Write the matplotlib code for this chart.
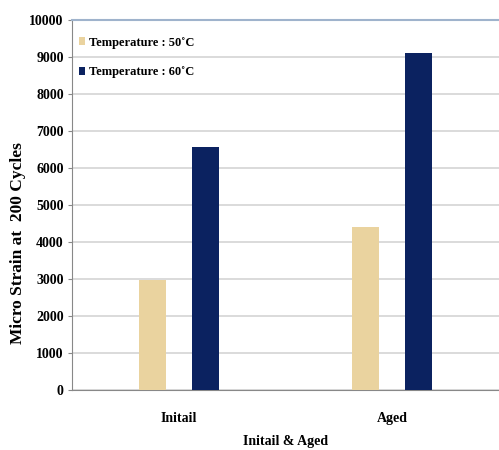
import numpy as np
from matplotlib import pyplot as plt

# 조건별 미세 변형률 (200 사이클)
groups = ['Initail', 'Aged']
strain_50c = [2970, 4400]
strain_60c = [6570, 9100]
yticks = [0, 1000, 2000, 3000, 4000, 5000, 6000, 7000, 8000, 9000, 10000]

plt.rcParams['font.family'] = ['Liberation Serif', 'DejaVu Serif']

fig = plt.figure(figsize=(4.99, 4.5), dpi=100)
ax = fig.add_axes([0.1443, 0.1333, 0.8557, 0.8223])

x = np.arange(len(groups))
w = 0.127
ax.bar(x - 0.125, strain_50c, w, color='#ead39f', label='Temperature : 50˚C', zorder=3)
ax.bar(x + 0.125, strain_60c, w, color='#0b2260', label='Temperature : 60˚C', zorder=3)

ax.set_xlim(-0.5, 1.5)
ax.set_ylim(0, 10000)
ax.set_yticks(yticks)
ax.set_yticklabels([str(v) for v in yticks], fontweight='bold', fontsize=10)
ax.set_xticks(x)
ax.set_xticklabels(groups, fontweight='bold', fontsize=10)
ax.tick_params(axis='x', length=0, pad=16)
ax.tick_params(axis='y', length=3, color='#888888', pad=3)

ax.grid(axis='y', color='#d4d4d4', linewidth=1.2, zorder=0)
ax.spines['right'].set_visible(False)
ax.spines['top'].set_color('#9fb3cc')
ax.spines['top'].set_linewidth(1.5)
ax.spines['left'].set_color('#888888')
ax.spines['bottom'].set_color('#888888')

ax.set_xlabel('Initail & Aged', fontweight='bold', fontsize=10, va='top')
ax.xaxis.set_label_coords(0.5, -0.122)
ax.set_ylabel('Micro Strain at  200 Cycles', fontweight='bold', fontsize=12.5)
ax.yaxis.set_label_coords(-0.108, 0.397)

leg = ax.legend(loc='upper left', bbox_to_anchor=(-0.01, 0.985), frameon=False,
                prop={'weight': 'bold', 'size': 9}, handlelength=0.5, handleheight=0.6,
                handletextpad=0.3, labelspacing=1.4)

plt.savefig('out.png', dpi=100)
